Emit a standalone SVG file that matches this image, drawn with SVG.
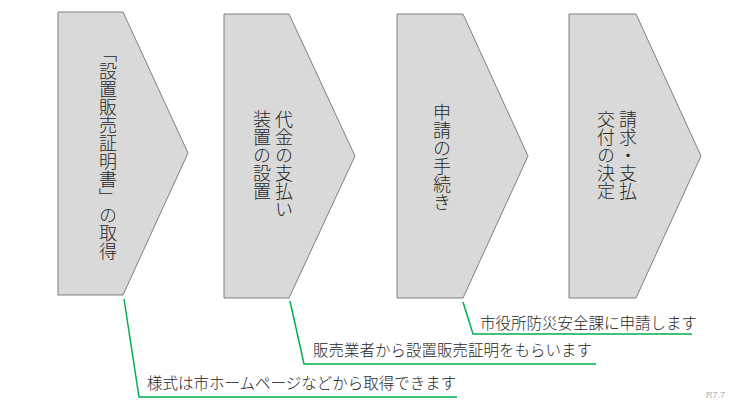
<svg xmlns="http://www.w3.org/2000/svg" width="740" height="416" viewBox="0 0 740 416">
<style>
.step{fill:#d9d9d9;stroke:#7f7f7f;stroke-width:1}
.v{font-family:"Noto Sans CJK JP","Noto Sans CJK SC",sans-serif;font-size:18px;font-weight:300;fill:#262626;writing-mode:vertical-rl;text-orientation:mixed}
.note{font-family:"Noto Sans CJK JP","Noto Sans CJK SC",sans-serif;font-size:15.5px;font-weight:300;fill:#262626}
.lead{fill:none;stroke:#00b050;stroke-width:1.5}
.ver{font-family:"Liberation Sans",Arial,sans-serif;font-size:9px;fill:#b0b0b0}
</style>
<rect width="740" height="416" fill="#ffffff"/>
<g id="step1">
<polygon class="step" points="58,12 123,12 188,153 123,295 58,295"/>
<text class="v" x="108" y="44">「設置販売証明書」の取得</text>
</g>
<g id="step2">
<polygon class="step" points="224,14 289,14 355,156 289,298 224,298"/>
<text class="v" x="284" y="110">代金の支払い</text>
<text class="v" x="262" y="110">装置の設置</text>
</g>
<g id="step3">
<polygon class="step" points="397,14 463,14 528,156 463,298 397,298"/>
<text class="v" x="442" y="103">申請の手続き</text>
</g>
<g id="step4">
<polygon class="step" points="569,14 636,14 701,156 636,298 569,298"/>
<text class="v" x="628" y="110">請求・支払</text>
<text class="v" x="606" y="110">交付の決定</text>
</g>
<g id="connectors">
<polyline class="lead" points="124,299 139,397 457,397"/>
<polyline class="lead" points="290,301 304,364 596,364"/>
<polyline class="lead" points="463,302 473,334 692,334"/>
</g>
<g id="notes">
<text class="note" x="147" y="389">様式は市ホームページなどから取得できます</text>
<text class="note" x="313" y="356">販売業者から設置販売証明をもらいます</text>
<text class="note" x="480" y="329">市役所防災安全課に申請します</text>
</g>
<text class="ver" x="706" y="398">R7.7</text>
</svg>
